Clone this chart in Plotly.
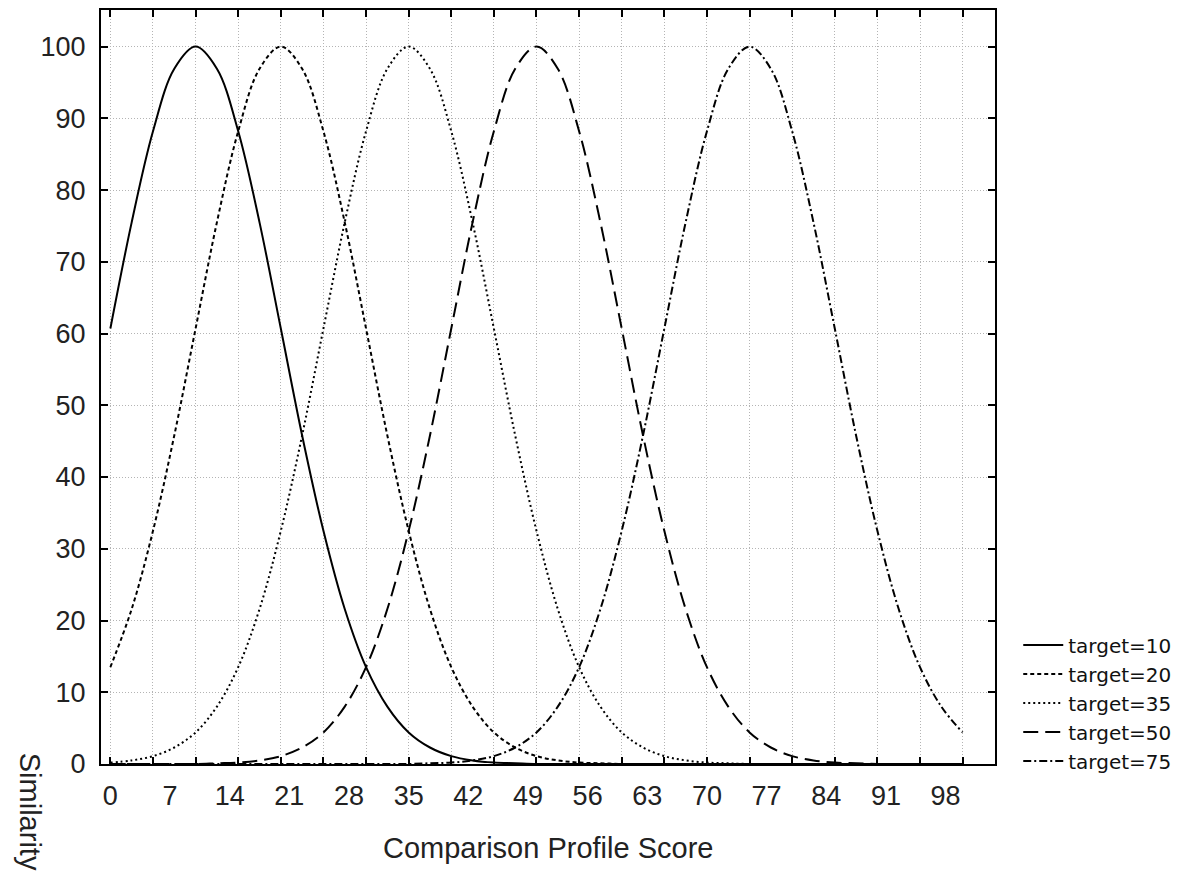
import plotly.graph_objects as go

# x grid: Comparison Profile Score, every 2.5 units from 0 to 100
x_scores = [i * 2.5 for i in range(41)]

target_10 = [60.7, 75.5, 88.2, 96.9, 100, 96.9, 88.2, 75.5, 60.7, 45.8, 32.5, 21.6, 13.5, 8.0, 4.4, 2.3,
             1.1, 0.5, 0.2, 0.1, 0.0] + [0.0] * 20
target_20 = [13.5, 21.6, 32.5, 45.8, 60.7, 75.5, 88.2, 96.9, 100, 96.9, 88.2, 75.5, 60.7, 45.8, 32.5, 21.6,
             13.5, 8.0, 4.4, 2.3, 1.1, 0.5, 0.2, 0.1, 0.0] + [0.0] * 16
target_35 = [0.2, 0.5, 1.1, 2.3, 4.4, 8.0, 13.5, 21.6, 32.5, 45.8, 60.7, 75.5, 88.2, 96.9, 100, 96.9,
             88.2, 75.5, 60.7, 45.8, 32.5, 21.6, 13.5, 8.0, 4.4, 2.3, 1.1, 0.5, 0.2, 0.1, 0.0] + [0.0] * 10
target_50 = [0.0] * 4 + [0.0, 0.1, 0.2, 0.5, 1.1, 2.3, 4.4, 8.0, 13.5, 21.6, 32.5, 45.8, 60.7, 75.5, 88.2,
                         96.9, 100, 96.9, 88.2, 75.5, 60.7, 45.8, 32.5, 21.6, 13.5, 8.0, 4.4, 2.3, 1.1,
                         0.5, 0.2, 0.1, 0.0] + [0.0] * 4
target_75 = [0.0] * 14 + [0.0, 0.1, 0.2, 0.5, 1.1, 2.3, 4.4, 8.0, 13.5, 21.6, 32.5, 45.8, 60.7, 75.5, 88.2,
                          96.9, 100, 96.9, 88.2, 75.5, 60.7, 45.8, 32.5, 21.6, 13.5, 8.0, 4.4]

series_names = ["target=10", "target=20", "target=35", "target=50", "target=75"]
series_values = [target_10, target_20, target_35, target_50, target_75]
series_dashes = ["solid", "4px,3px", "2px,3px", "15px,7px", "8px,3px,2px,3px"]

x_tick_labels = list(range(0, 99, 7))
x_minor_ticks = list(range(0, 101, 5))
y_tick_labels = list(range(0, 101, 10))

fig = go.Figure()
for name, vals, dash in zip(series_names, series_values, series_dashes):
    fig.add_trace(go.Scatter(
        x=x_scores, y=vals, name=name, mode="lines",
        line=dict(color="black", width=2, dash=dash, shape="spline", smoothing=1.0),
    ))

tick_font = dict(family="Liberation Sans, Arial", size=27, color="#222")
grid_col = "#b4b4b4"

fig.update_layout(
    width=1181, height=871,
    margin=dict(l=93, r=194, t=0, b=115),
    paper_bgcolor="white", plot_bgcolor="white",
    showlegend=True,
    legend=dict(
        x=1.026, xanchor="left", y=-0.022, yanchor="bottom",
        font=dict(family="DejaVu Sans, Verdana", size=20, color="#111"),
        bgcolor="rgba(0,0,0,0)", tracegroupgap=0, itemwidth=40,
    ),
    xaxis=dict(
        range=[-1.1, 103.8], tickmode="array", tickvals=x_tick_labels,
        ticktext=[str(v) for v in x_tick_labels], ticks="", showgrid=False,
        zeroline=False, showline=True, linecolor="black", linewidth=2, mirror="allticks",
        tickfont=tick_font, ticklabelstandoff=7,
        minor=dict(tickmode="array", tickvals=x_minor_ticks, ticks="inside", ticklen=7, tickwidth=2,
                   tickcolor="black", showgrid=True, gridcolor=grid_col, griddash="1px,2px", gridwidth=1),
    ),
    yaxis=dict(
        range=[0, 105.1], tickmode="array", tickvals=y_tick_labels,
        ticks="inside", ticklen=7, tickwidth=2, tickcolor="black",
        showgrid=True, gridcolor=grid_col, griddash="1px,2px", gridwidth=1,
        zeroline=False, showline=True, linecolor="black", linewidth=2, mirror="allticks",
        tickfont=tick_font, ticklabelstandoff=8,
    ),
    annotations=[
        dict(text="Comparison Profile Score", xref="paper", yref="paper", x=0.5, y=-0.111,
             xanchor="center", yanchor="middle", showarrow=False,
             font=dict(family="Liberation Sans, Arial", size=29, color="#222")),
        dict(text="Similarity", xref="paper", yref="paper", x=-0.08, y=-0.064,
             xanchor="center", yanchor="middle", showarrow=False, textangle=90,
             font=dict(family="Liberation Sans, Arial", size=29, color="#222")),
    ],
)

fig.write_html("out.html")
